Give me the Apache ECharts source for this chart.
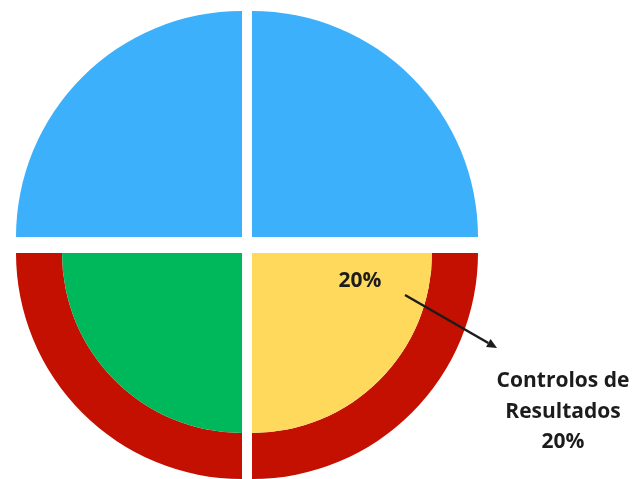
<!DOCTYPE html>
<html>
<head>
<meta charset="utf-8">
<script src="https://cdn.jsdelivr.net/npm/echarts@6/dist/echarts.min.js"></script>
<style>
  html, body { margin: 0; padding: 0; background: #ffffff; }
  #chart { width: 634px; height: 479px; }
</style>
</head>
<body>
<div id="chart"></div>
<script>
// Quadrant regions, listed clockwise from the top-right one.
const regionNames = ['Superior direito', 'Inferior direito', 'Superior esquerdo', 'Inferior esquerdo'];
// Weight of each region, in percent (each region is drawn as one quarter of the disc).
const regionValues = [25, 20, 25, 25];
// Bottom quadrants carry an outer band around a filled core.
const bandNames = ['Anel inferior direito', 'Anel inferior esquerdo'];
const bandValues = [25, 25];
// Annotated region
const calloutName = ['Controlos de', 'Resultados'];
const calloutValue = regionValues[1];

// Geometry of the split disc
const R_OUT = 226, R_IN = 180;
const X_LEFT = 242, X_RIGHT = 252, Y_TOP = 237, Y_BOTTOM = 253;

const BLUE = '#3cb0fa', RED = '#c41000', GREEN = '#00b85c', YELLOW = '#ffd95c';

function quarter(name, value, color, center, start, radius, id) {
  return {
    type: 'pie',
    id: id,
    silent: true,
    center: center,
    radius: radius,
    startAngle: start,
    endAngle: start - 90,
    clockwise: true,
    label: { show: false },
    labelLine: { show: false },
    itemStyle: { color: color, borderWidth: 0 },
    data: [{ name: name, value: value }]
  };
}

const series = [
  quarter(regionNames[0], regionValues[0], BLUE, [X_RIGHT, Y_TOP], 90, [0, R_OUT], 'q1'),
  quarter(regionNames[2], regionValues[2], BLUE, [X_LEFT, Y_TOP], 180, [0, R_OUT], 'q4'),
  quarter(bandNames[0], bandValues[0], RED, [X_RIGHT, Y_BOTTOM], 0, [R_IN, R_OUT], 'b2'),
  quarter(bandNames[1], bandValues[1], RED, [X_LEFT, Y_BOTTOM], 270, [R_IN, R_OUT], 'b3'),
  quarter(regionNames[1], regionValues[1], YELLOW, [X_RIGHT, Y_BOTTOM], 0, [0, R_IN], 'q2'),
  quarter(regionNames[3], regionValues[3], GREEN, [X_LEFT, Y_BOTTOM], 270, [0, R_IN], 'q3')
];

// Callout arrow from the inner label out to the side caption
const ARROW_FROM = [405, 295], ARROW_TO = [497, 348];
const dx = ARROW_TO[0] - ARROW_FROM[0], dy = ARROW_TO[1] - ARROW_FROM[1];
const len = Math.hypot(dx, dy), ux = dx / len, uy = dy / len;
const HEAD_L = 10, HEAD_W = 4.5;
const baseX = ARROW_TO[0] - ux * HEAD_L, baseY = ARROW_TO[1] - uy * HEAD_L;

const TEXT_COLOR = '#1c1c1c';
const FONT = '"Open Sans", "Noto Sans", sans-serif';

const chart = echarts.init(document.getElementById('chart'), null, { renderer: 'canvas' });
chart.setOption({
  animation: false,
  backgroundColor: '#ffffff',
  series: series,
  graphic: [
    {
      type: 'text',
      z: 100,
      style: {
        text: calloutValue + '%',
        x: 360, y: 281,
        fill: TEXT_COLOR,
        font: 'bold 21px ' + FONT,
        textAlign: 'center',
        textVerticalAlign: 'middle'
      }
    },
    {
      type: 'line',
      z: 100,
      shape: { x1: ARROW_FROM[0], y1: ARROW_FROM[1], x2: baseX, y2: baseY },
      style: { stroke: TEXT_COLOR, lineWidth: 2.5 }
    },
    {
      type: 'polygon',
      z: 100,
      shape: {
        points: [
          ARROW_TO,
          [baseX - uy * HEAD_W, baseY + ux * HEAD_W],
          [baseX + uy * HEAD_W, baseY - ux * HEAD_W]
        ]
      },
      style: { fill: TEXT_COLOR }
    },
    {
      type: 'text',
      z: 100,
      style: {
        text: calloutName.join('\n') + '\n' + calloutValue + '%',
        x: 563, y: 412,
        fill: TEXT_COLOR,
        font: 'bold 21px ' + FONT,
        lineHeight: 30.5,
        textAlign: 'center',
        textVerticalAlign: 'middle'
      }
    }
  ]
});
</script>
</body>
</html>
